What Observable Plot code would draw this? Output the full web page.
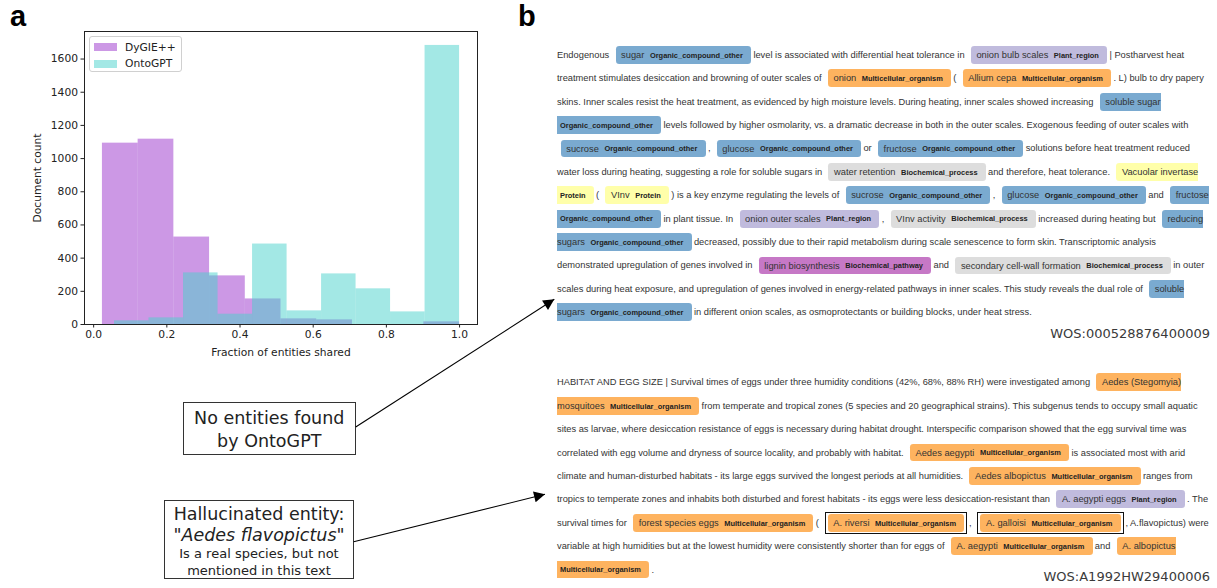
<!DOCTYPE html>
<html>
<head>
<meta charset="utf-8">
<script src="https://cdn.jsdelivr.net/npm/d3@7"></script>
<script src="https://cdn.jsdelivr.net/npm/@observablehq/plot@0.6"></script>
<style>
  html, body { margin: 0; padding: 0; background: #fff; }
  #page { position: relative; width: 1217px; height: 588px; overflow: hidden; background: #fff; }
  .panel-label { position: absolute; font-family: "Liberation Sans", Arial, sans-serif; font-weight: bold; font-size: 29px; line-height: 1; color: #000; }
  .legend { position: absolute; left: 89px; top: 36px; width: 91px; height: 34px; border: 1px solid #d0d0d0; border-radius: 3px; background: rgba(255,255,255,0.8); font-family: "DejaVu Sans", sans-serif; font-size: 10.7px; color: #222; }
  .legend .row { position: absolute; left: 4px; height: 12px; display: flex; align-items: center; }
  .legend .sw { width: 23px; height: 8px; margin-right: 8px; }
  .doc { position: absolute; left: 557px; width: 655px; font-family: "Liberation Sans", Arial, sans-serif; font-size: 9.3px; line-height: 23.4px; color: #333; }
  .doc mark { color: #333; padding: 0.42em 0.6em; margin: 0 0.25em 0 0.4em; line-height: 1; border-radius: 0.35em; }
  .doc mark .lab { font-size: 0.8em; font-weight: bold; line-height: 1; vertical-align: middle; margin-left: 0.4em; color: #222; }
  .doc .hl { border: 1.4px solid #111; padding: 5px 2px; margin: 0 0.2em 0 0.35em; }
  .doc .hl mark { margin: 0; }
  .wos { position: absolute; right: 7px; font-family: "DejaVu Sans", sans-serif; font-size: 13px; color: #3a3a3a; white-space: nowrap; }
  .note { position: absolute; border: 1px solid #333; background: #fff; font-family: "DejaVu Sans", sans-serif; color: #222; text-align: center; box-sizing: border-box; }
  #arrows { position: absolute; left: 0; top: 0; pointer-events: none; }
</style>
</head>
<body>
<div id="page"></div>
<script>
// ---------------- Panel a: histogram data ----------------
const dygieEdges = [0.024, 0.1216, 0.2192, 0.3168, 0.4144, 0.512, 0.6096, 0.7072, 0.8048, 0.9024, 1.0];
const dygieCounts = [1093, 1117, 527, 293, 154, 34, 28, 0, 0, 16];
const ontoEdges = [0.057, 0.1513, 0.2456, 0.34, 0.4343, 0.5286, 0.6229, 0.7171, 0.8114, 0.9057, 1.0];
const ontoCounts = [22, 40, 311, 62, 485, 82, 305, 215, 76, 1682];
const seriesNames = ["DyGIE++", "OntoGPT"];
const seriesColors = ["#9932CC", "#48D1CC"];
const xTicks = [0.0, 0.2, 0.4, 0.6, 0.8, 1.0];
const yTicks = [0, 200, 400, 600, 800, 1000, 1200, 1400, 1600];

// ---------------- Panel b: annotated abstracts ----------------
const entityLabels = ["Organic_compound_other", "Plant_region", "Multicellular_organism", "Biochemical_process", "Protein", "Biochemical_pathway"];
const entityColors = ["#7aaad0", "#c0bbdd", "#feb35f", "#dddddd", "#ffffaa", "#c678c6"];

const doc1Segments = [
  "Endogenous ", ["sugar", "Organic_compound_other"],
  " level is associated with differential heat tolerance in ", ["onion bulb scales", "Plant_region"],
  " | Postharvest heat treatment stimulates desiccation and browning of outer scales of ", ["onion", "Multicellular_organism"],
  " ( ", ["Allium cepa", "Multicellular_organism"],
  " . L) bulb to dry papery skins. Inner scales resist the heat treatment, as evidenced by high moisture levels. During heating, inner scales showed increasing ", ["soluble sugar", "Organic_compound_other"],
  " levels followed by higher osmolarity, vs. a dramatic decrease in both in the outer scales. Exogenous feeding of outer scales with ", ["sucrose", "Organic_compound_other"],
  " , ", ["glucose", "Organic_compound_other"],
  " or ", ["fructose", "Organic_compound_other"],
  " solutions before heat treatment reduced water loss during heating, suggesting a role for soluble sugars in ", ["water retention", "Biochemical_process"],
  " and therefore, heat tolerance. ", ["Vacuolar invertase", "Protein"],
  " ( ", ["VInv", "Protein"],
  " ) is a key enzyme regulating the levels of ", ["sucrose", "Organic_compound_other"],
  " , ", ["glucose", "Organic_compound_other"],
  " and ", ["fructose", "Organic_compound_other"],
  " in plant tissue. In ", ["onion outer scales", "Plant_region"],
  " , ", ["VInv activity", "Biochemical_process"],
  " increased during heating but ", ["reducing sugars", "Organic_compound_other"],
  " decreased, possibly due to their rapid metabolism during scale senescence to form skin. Transcriptomic analysis demonstrated upregulation of genes involved in ", ["lignin biosynthesis", "Biochemical_pathway"],
  " and ", ["secondary cell-wall formation", "Biochemical_process"],
  " in outer scales during heat exposure, and upregulation of genes involved in energy-related pathways in inner scales. This study reveals the dual role of ", ["soluble sugars", "Organic_compound_other"],
  " in different onion scales, as osmoprotectants or building blocks, under heat stress."
];
const doc1Id = "WOS:000528876400009";

const doc2Segments = [
  "HABITAT AND EGG SIZE | Survival times of eggs under three humidity conditions (42%, 68%, 88% RH) were investigated among ", ["Aedes (Stegomyia) mosquitoes", "Multicellular_organism"],
  " from temperate and tropical zones (5 species and 20 geographical strains). This subgenus tends to occupy small aquatic sites as larvae, where desiccation resistance of eggs is necessary during habitat drought. Interspecific comparison showed that the egg survival time was correlated with egg volume and dryness of source locality, and probably with habitat. ", ["Aedes aegypti", "Multicellular_organism"],
  " is associated most with arid climate and human-disturbed habitats - its large eggs survived the longest periods at all humidities. ", ["Aedes albopictus", "Multicellular_organism"],
  " ranges from tropics to temperate zones and inhabits both disturbed and forest habitats - its eggs were less desiccation-resistant than ", ["A. aegypti eggs", "Plant_region"],
  " . The survival times for ", ["forest species eggs", "Multicellular_organism"],
  " ( ", ["A. riversi", "Multicellular_organism", true],
  " , ", ["A. galloisi", "Multicellular_organism", true],
  " , A.flavopictus) were variable at high humidities but at the lowest humidity were consistently shorter than for eggs of ", ["A. aegypti", "Multicellular_organism"],
  " and ", ["A. albopictus", "Multicellular_organism"],
  " ."
];
const doc2Id = "WOS:A1992HW29400006";

const noteTexts = [
  ["No entities found", "by OntoGPT"],
  ["Hallucinated entity:", "\"Aedes flavopictus\"", "Is a real species, but not", "mentioned in this text"]
];

// ---------------- Build page ----------------
const page = document.getElementById("page");

const dygie = dygieCounts.map((c, i) => ({x1: dygieEdges[i], x2: dygieEdges[i + 1], y: c}));
const onto = ontoCounts.map((c, i) => ({x1: ontoEdges[i], x2: ontoEdges[i + 1], y: c}));

const chart = Plot.plot({
  width: 490,
  height: 370,
  marginLeft: 84,
  marginRight: 13,
  marginTop: 31,
  marginBottom: 46,
  style: {fontFamily: "DejaVu Sans, sans-serif", fontSize: "10.7px", color: "#222", background: "transparent", overflow: "visible"},
  x: {domain: [-0.025, 1.049]},
  y: {domain: [0, 1766]},
  marks: [
    Plot.rectY(dygie, {x1: "x1", x2: "x2", y: "y", fill: seriesColors[0], fillOpacity: 0.5}),
    Plot.rectY(onto, {x1: "x1", x2: "x2", y: "y", fill: seriesColors[1], fillOpacity: 0.5}),
    Plot.frame({stroke: "#222", strokeWidth: 1}),
    Plot.axisX({ticks: xTicks, tickFormat: d3.format(".1f"), tickSize: 3.5, tickPadding: 2.5,
      label: "Fraction of entities shared", labelAnchor: "center", labelArrow: "none", labelOffset: 31}),
    Plot.axisY({ticks: yTicks, tickFormat: d3.format("d"), tickSize: 3.5, tickPadding: 3,
      label: "Document count", labelAnchor: "center", labelArrow: "none", labelOffset: 51})
  ]
});
chart.style.position = "absolute";
chart.style.left = "0px";
chart.style.top = "0px";
page.appendChild(chart);

// legend
const legend = document.createElement("div");
legend.className = "legend";
seriesNames.forEach((name, i) => {
  const row = document.createElement("div");
  row.className = "row";
  row.style.top = (i === 0 ? 4 : 20.5) + "px";
  const sw = document.createElement("div");
  sw.className = "sw";
  sw.style.background = seriesColors[i];
  sw.style.opacity = 0.5;
  row.appendChild(sw);
  const t = document.createElement("span");
  t.textContent = name;
  row.appendChild(t);
  legend.appendChild(row);
});
page.appendChild(legend);

// panel labels
function addLabel(txt, left, top) {
  const d = document.createElement("div");
  d.className = "panel-label";
  d.textContent = txt;
  d.style.left = left + "px";
  d.style.top = top + "px";
  page.appendChild(d);
}
addLabel("a", 10, 2);
addLabel("b", 518, 2);

// documents
const colorOf = l => entityColors[entityLabels.indexOf(l)];
function renderDoc(segs, top) {
  const d = document.createElement("div");
  d.className = "doc";
  d.style.top = top + "px";
  for (const s of segs) {
    if (typeof s === "string") {
      d.appendChild(document.createTextNode(s));
    } else {
      const m = document.createElement("mark");
      m.style.background = colorOf(s[1]);
      m.appendChild(document.createTextNode(s[0] + " "));
      const lab = document.createElement("span");
      lab.className = "lab";
      lab.textContent = s[1];
      m.appendChild(lab);
      m.appendChild(document.createTextNode(" "));
      if (s[2]) {
        const w = document.createElement("span");
        w.className = "hl";
        w.appendChild(m);
        d.appendChild(w);
      } else {
        d.appendChild(m);
      }
    }
  }
  page.appendChild(d);
}
renderDoc(doc1Segments, 43.8);
renderDoc(doc2Segments, 371.3);

function addWos(txt, top) {
  const d = document.createElement("div");
  d.className = "wos";
  d.textContent = txt;
  d.style.top = top + "px";
  page.appendChild(d);
}
addWos(doc1Id, 326);
addWos(doc2Id, 569);

// annotation boxes
function addNote(lines, left, top, w, h, styles) {
  const d = document.createElement("div");
  d.className = "note";
  d.style.left = left + "px";
  d.style.top = top + "px";
  d.style.width = w + "px";
  d.style.height = h + "px";
  lines.forEach((ln, i) => {
    const p = document.createElement("div");
    p.textContent = ln;
    Object.assign(p.style, styles[i]);
    d.appendChild(p);
  });
  page.appendChild(d);
}
addNote(noteTexts[0], 182.5, 401.5, 173.5, 53, [
  {fontSize: "17.5px", lineHeight: "23.5px", marginTop: "4px"},
  {fontSize: "17.5px", lineHeight: "23.5px"}
]);
addNote(noteTexts[1], 164, 500, 190, 78.5, [
  {fontSize: "17.5px", lineHeight: "21px", marginTop: "3px"},
  {fontSize: "17.5px", lineHeight: "21px", fontStyle: "italic"},
  {fontSize: "13px", lineHeight: "16.5px", marginTop: "0px"},
  {fontSize: "13px", lineHeight: "16.5px"}
]);

// arrows (annotation overlay)
const arrowLinks = [
  {x1: 355.7, y1: 427, x2: 554.3, y2: 299.3},
  {x1: 353.7, y1: 541.7, x2: 545, y2: 494.3}
];
const svg = d3.select(page).append("svg").attr("id", "arrows").attr("width", 1217).attr("height", 588);
svg.append("defs").append("marker")
  .attr("id", "head").attr("viewBox", "0 0 10 10").attr("refX", 10).attr("refY", 5)
  .attr("markerUnits", "userSpaceOnUse").attr("markerWidth", 14).attr("markerHeight", 11)
  .attr("orient", "auto")
  .append("path").attr("d", "M0,0 L10,5 L0,10 Z").attr("fill", "#000");
svg.selectAll("line").data(arrowLinks).join("line")
  .attr("x1", d => d.x1).attr("y1", d => d.y1).attr("x2", d => d.x2).attr("y2", d => d.y2)
  .attr("stroke", "#000").attr("stroke-width", 1.1).attr("marker-end", "url(#head)");
</script>
</body>
</html>
